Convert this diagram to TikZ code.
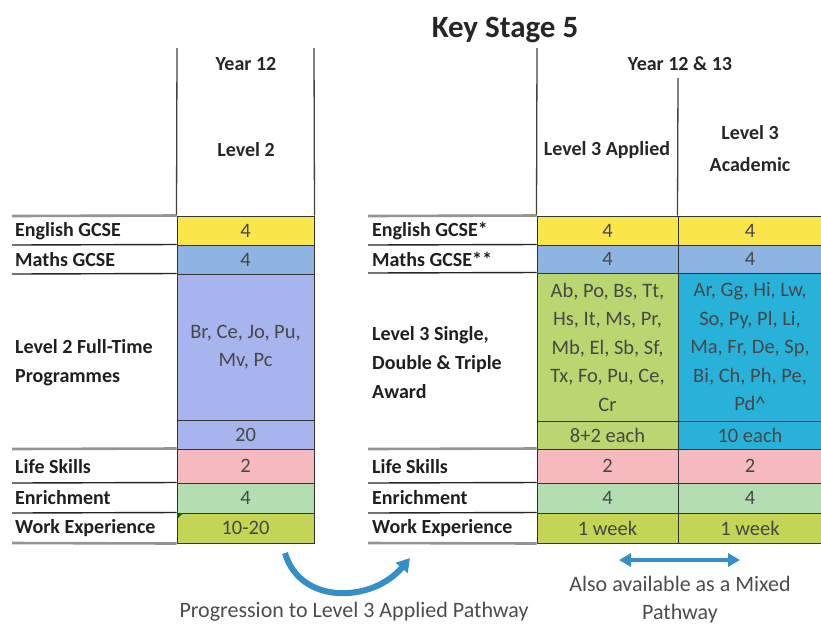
\documentclass[tikz,border=0pt]{standalone}
\usepackage{fontspec}
\setmainfont{Carlito}
\usetikzlibrary{arrows.meta}
\definecolor{cYel}{RGB}{250,230,75}
\definecolor{cMat}{RGB}{141,180,226}
\definecolor{cLav}{RGB}{168,180,238}
\definecolor{cPink}{RGB}{246,186,190}
\definecolor{cGrn}{RGB}{178,222,178}
\definecolor{cOlv}{RGB}{196,212,84}
\definecolor{cApp}{RGB}{186,214,112}
\definecolor{cAca}{RGB}{40,178,218}
\definecolor{cArr}{RGB}{52,142,200}
\newcommand\labfont{\fontsize{20}{29}\selectfont\bfseries}
\newcommand\datfont{\fontsize{20.5}{28.5}\selectfont}
\newcommand\notefont{\fontsize{22}{28}\selectfont}
\newcommand\mkcell[7]{\node[cellbox=#6, minimum width={#4-#2}, minimum height={#5-#3}] (#1) at ({(#2+#4)/2},{(#3+#5)/2}) {#7};}
\begin{document}
\begin{tikzpicture}[x=1pt,y=-1pt,
  cellbox/.style={draw=black!80, line width=1pt, fill=#1, inner sep=0pt, align=center, font=\datfont, text=black!72},
  lab/.style={anchor=west, align=left, inner sep=0pt, font=\labfont, text=black!88},
  hdr/.style={align=center, inner sep=0pt, font=\labfont, text=black!85},
  greyrule/.style={line width=2.6pt, draw=black!42},
  darkrule/.style={line width=1.4pt, draw=black!85},
  vline/.style={line width=1.3pt, draw=black!75},
  note/.style={align=center, inner sep=0pt, font=\notefont, text=black!70}]
\useasboundingbox (0,0) rectangle (821,625);
% title and headers
\node[hdr, font=\fontsize{31}{34}\selectfont\bfseries] (title) at (505,30) {Key Stage 5};
\node[hdr] (y12) at (246,64) {Year 12};
\node[hdr] (lv2) at (246,150) {Level 2};
\node[hdr] (y1213) at (680,64) {Year 12 \& 13};
\node[hdr] (l3app) at (607,150) {Level 3 Applied};
\node[hdr, font=\fontsize{20}{32}\selectfont\bfseries] (l3aca) at (750,149) {Level 3\\Academic};
% left table cells
\mkcell{Leng}{177}{216}{314}{245}{cYel}{4}
\mkcell{Lmat}{177}{245}{314}{274}{cMat}{4}
\mkcell{Lprog}{177}{274}{314}{420}{cLav}{Br, Ce, Jo, Pu,\\Mv, Pc}
\mkcell{Lhrs}{177}{420}{314}{449}{cLav}{20}
\mkcell{Llife}{177}{449}{314}{483}{cPink}{2}
\mkcell{Lenr}{177}{483}{314}{513}{cGrn}{4}
\mkcell{Lwork}{177}{513}{314}{543}{cOlv}{10-20}
\fill[green!40!black] (Lwork.north west) ++(0.6,0.6) -- ++(6,0) -- ++(-6,6) -- cycle;
% right table cells
\mkcell{Aeng}{537}{216}{678}{245}{cYel}{4}
\mkcell{Amat}{537}{245}{678}{273}{cMat}{4}
\mkcell{Aprog}{537}{273}{678}{421}{cApp}{Ab, Po, Bs, Tt,\\Hs, It, Ms, Pr,\\Mb, El, Sb, Sf,\\Tx, Fo, Pu, Ce,\\Cr}
\mkcell{Ahrs}{537}{421}{678}{449}{cApp}{8+2 each}
\mkcell{Alife}{537}{449}{678}{483}{cPink}{2}
\mkcell{Aenr}{537}{483}{678}{513}{cGrn}{4}
\mkcell{Awork}{537}{513}{678}{543}{cOlv}{1 week}
\mkcell{Beng}{678}{216}{822}{245}{cYel}{4}
\mkcell{Bmat}{678}{245}{822}{273}{cMat}{4}
\mkcell{Bprog}{678}{273}{822}{421}{cAca}{Ar, Gg, Hi, Lw,\\So, Py, Pl, Li,\\Ma, Fr, De, Sp,\\Bi, Ch, Ph, Pe,\\Pd\^{}}
\mkcell{Bhrs}{678}{421}{822}{449}{cAca}{10 each}
\mkcell{Blife}{678}{449}{822}{483}{cPink}{2}
\mkcell{Benr}{678}{483}{822}{513}{cGrn}{4}
\mkcell{Bwork}{678}{513}{822}{543}{cOlv}{1 week}
% vertical header lines
\coordinate (v1) at (177,48);
\coordinate (v2) at (314,48);
\coordinate (v3) at (537,48);
\coordinate (v4) at (678,78);
\draw[vline] (v1) -- (Leng.north west);
\draw[vline] (v2) -- (Leng.north east);
\draw[vline] (v3) -- (Aeng.north west);
\draw[vline] (v4) -- (Beng.north west);
% left label rules
\draw[greyrule] (12,216) -- (Leng.north west);
\draw[darkrule] (12,245) -- (Lmat.north west);
\draw[darkrule] (12,274) -- (Lprog.north west);
\draw[greyrule] (12,449) -- (Llife.north west);
\draw[darkrule] (12,483) -- (Lenr.north west);
\draw[darkrule] (12,513) -- (Lwork.north west);
\draw[greyrule] (12,543) -- (Lwork.south west);
% right label rules
\draw[greyrule] (368,216) -- (Aeng.north west);
\draw[darkrule] (368,245) -- (Amat.north west);
\draw[darkrule] (368,273) -- (Aprog.north west);
\draw[greyrule] (368,449) -- (Alife.north west);
\draw[darkrule] (368,483) -- (Aenr.north west);
\draw[darkrule] (368,513) -- (Awork.north west);
\draw[greyrule] (368,543) -- (Awork.south west);
% left labels
\node[lab] (lEng) at (15,231) {English GCSE};
\node[lab] (lMat) at (15,260) {Maths GCSE};
\node[lab] (lProg) at (15,363) {Level 2 Full-Time\\Programmes};
\node[lab] (lLife) at (15,467) {Life Skills};
\node[lab] (lEnr) at (15,498) {Enrichment};
\node[lab] (lWork) at (15,528) {Work Experience};
% right labels
\node[lab] (rEng) at (372,231) {English GCSE*};
\node[lab] (rMat) at (372,259) {Maths GCSE**};
\node[lab] (rProg) at (372,363) {Level 3 Single,\\Double \& Triple\\Award};
\node[lab] (rLife) at (372,467) {Life Skills};
\node[lab] (rEnr) at (372,498) {Enrichment};
\node[lab] (rWork) at (372,528) {Work Experience};
% progression arrow
\coordinate (pa) at (285,553);
\coordinate (pb) at (410,558);
\draw[cArr, line width=6pt, -{Triangle[length=13pt,width=15pt]}] (pa) .. controls (300,605) and (372,603) .. (pb);
\node[note] (prog) at (354,612) {Progression to Level 3 Applied Pathway};
% mixed pathway arrow
\coordinate (ma) at (619,560);
\coordinate (mb) at (740,560);
\draw[cArr, line width=4.5pt, {Triangle[length=12pt,width=13pt]}-{Triangle[length=12pt,width=13pt]}] (ma) -- (mb);
\node[note] (mix) at (680,600) {Also available as a Mixed\\Pathway};
\end{tikzpicture}
\end{document}
